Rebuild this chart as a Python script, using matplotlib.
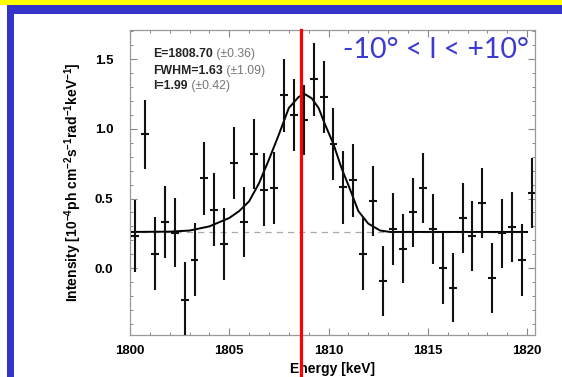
import matplotlib
matplotlib.use("Agg")
import matplotlib.pyplot as plt
from matplotlib.patches import Rectangle
from matplotlib.ticker import MultipleLocator

plt.rcParams['font.family'] = ['Liberation Sans', 'DejaVu Sans']
plt.rcParams['mathtext.fontset'] = 'custom'
plt.rcParams['mathtext.rm'] = 'Liberation Sans:bold'
plt.rcParams['mathtext.default'] = 'rm'

# Binned spectrum (0.5 keV bins)
energy = [1800.25, 1800.75, 1801.25, 1801.75, 1802.25, 1802.75, 1803.25, 1803.75,
          1804.25, 1804.75, 1805.25, 1805.75, 1806.25, 1806.75, 1807.25, 1807.75,
          1808.25, 1808.75, 1809.25, 1809.75, 1810.25, 1810.75, 1811.25, 1811.75,
          1812.25, 1812.75, 1813.25, 1813.75, 1814.25, 1814.75, 1815.25, 1815.75,
          1816.25, 1816.75, 1817.25, 1817.75, 1818.25, 1818.75, 1819.25, 1819.75,
          1820.25]
intensity = [0.23, 0.96, 0.105, 0.33, 0.255, -0.226, 0.062, 0.645,
             0.42, 0.174, 0.755, 0.33, 0.82, 0.564, 0.576, 1.24,
             1.10, 1.064, 1.355, 1.23, 0.89, 0.58, 0.63, 0.10,
             0.48, -0.09, 0.283, 0.14, 0.40, 0.574, 0.283, 0.002,
             -0.14, 0.36, 0.23, 0.47, -0.07, 0.25, 0.295, 0.057,
             0.54]
err = [0.26, 0.25, 0.26, 0.26, 0.25, 0.27, 0.26, 0.26,
       0.26, 0.26, 0.26, 0.25, 0.25, 0.26, 0.26, 0.26,
       0.26, 0.25, 0.26, 0.26, 0.26, 0.26, 0.26, 0.26,
       0.25, 0.25, 0.26, 0.25, 0.25, 0.25, 0.25, 0.26,
       0.25, 0.25, 0.25, 0.25, 0.25, 0.25, 0.25, 0.26,
       0.25]
bin_half = 0.2

# fitted line profile
fit_e = [1800.0, 1802.0, 1803.0, 1803.5, 1804.0, 1804.5, 1805.0, 1805.5, 1806.0,
         1806.5, 1807.0, 1807.5, 1808.0, 1808.5, 1808.8, 1809.15, 1809.5, 1809.8,
         1810.25, 1810.65, 1811.1, 1811.5, 1812.0, 1812.6, 1813.1, 1820.0]
fit_i = [0.26, 0.262, 0.27, 0.285, 0.30, 0.33, 0.36, 0.41, 0.48,
         0.61, 0.78, 0.96, 1.15, 1.23, 1.25, 1.22, 1.15, 1.04,
         0.89, 0.72, 0.56, 0.41, 0.32, 0.27, 0.26, 0.26]
baseline = 0.26
line_energy = 1808.6

fit_labels = [("E=1808.70", " (\u00b10.36)"),
              ("FWHM=1.63", " (\u00b11.09)"),
              ("I=1.99", " (\u00b10.42)")]

fig = plt.figure(figsize=(5.62, 3.77), dpi=100)
fig.patch.set_facecolor('white')

# slide frame: yellow bar on top, blue border
fig.patches.append(Rectangle((0, 1 - 5/377), 1, 5/377, transform=fig.transFigure,
                             facecolor='#ffff00', edgecolor='none', zorder=0))
fig.patches.append(Rectangle((7/562, 0), 7/562, 1 - 5/377, transform=fig.transFigure,
                             facecolor='#3434c8', edgecolor='none', zorder=0))
fig.patches.append(Rectangle((7/562, 1 - 14/377), 1, 9/377, transform=fig.transFigure,
                             facecolor='#3434c8', edgecolor='none', zorder=0))

ax = fig.add_axes([130/562, 42/377, 405/562, 305/377])
ax.set_facecolor('white')

ax.plot([1800, 1820], [baseline, baseline], color='#aaaaaa', lw=0.9, ls=(0, (5, 4)), zorder=1)
ax.plot(fit_e, fit_i, color='black', lw=1.4, zorder=2)
ax.errorbar(energy, intensity, yerr=err, xerr=bin_half, fmt='none',
            ecolor='#111111', elinewidth=1.5, capsize=0, zorder=3)
ax.axvline(line_energy, ymin=-0.15, ymax=1, color='#ff0000', lw=2.3,
           clip_on=False, zorder=5)

ax.set_xlim(1800, 1820.4)
ax.set_ylim(-0.48, 1.71)
ax.xaxis.set_major_locator(MultipleLocator(5))
ax.xaxis.set_minor_locator(MultipleLocator(1))
ax.yaxis.set_major_locator(MultipleLocator(0.5))
ax.yaxis.set_minor_locator(MultipleLocator(0.1))
ax.yaxis.set_major_formatter(matplotlib.ticker.FormatStrFormatter('%.1f'))
ax.tick_params(which='both', direction='in', top=True, right=True, color='#888888')
ax.tick_params(which='major', length=5, width=0.8)
ax.tick_params(which='minor', length=2.5, width=0.7)
ax.tick_params(axis='x', pad=7, labelsize=9.5)
ax.tick_params(axis='y', pad=12, labelsize=9.5)
for lab in ax.get_xticklabels() + ax.get_yticklabels():
    lab.set_fontweight('bold')
for sp in ax.spines.values():
    sp.set_color('#999999')
    sp.set_linewidth(0.9)

ax.set_xlabel('Energy [keV]', fontsize=10, fontweight='bold', labelpad=4)
ax.set_ylabel(r'Intensity [10$^{-4}$ph cm$^{-2}$s$^{-1}$rad$^{-1}$keV$^{-1}$]',
              fontsize=10, fontweight='bold', labelpad=8)

ys = [0.92, 0.865, 0.815]
for (main, unc), y in zip(fit_labels, ys):
    t = ax.text(0.057, y, main, transform=ax.transAxes, fontsize=8.8,
                fontweight='bold', color='#222222', va='center')
    ax.annotate(unc, xy=(1, 0.5), xycoords=t, va='center', ha='left',
                fontsize=8.8, color='#777777')

ax.text(0.985, 0.935, '-10\u00b0 < l < +10\u00b0', transform=ax.transAxes,
        fontsize=20.5, color='#3a3ad2', ha='right', va='center', family='Lato')

fig.savefig('out.png', dpi=100)
